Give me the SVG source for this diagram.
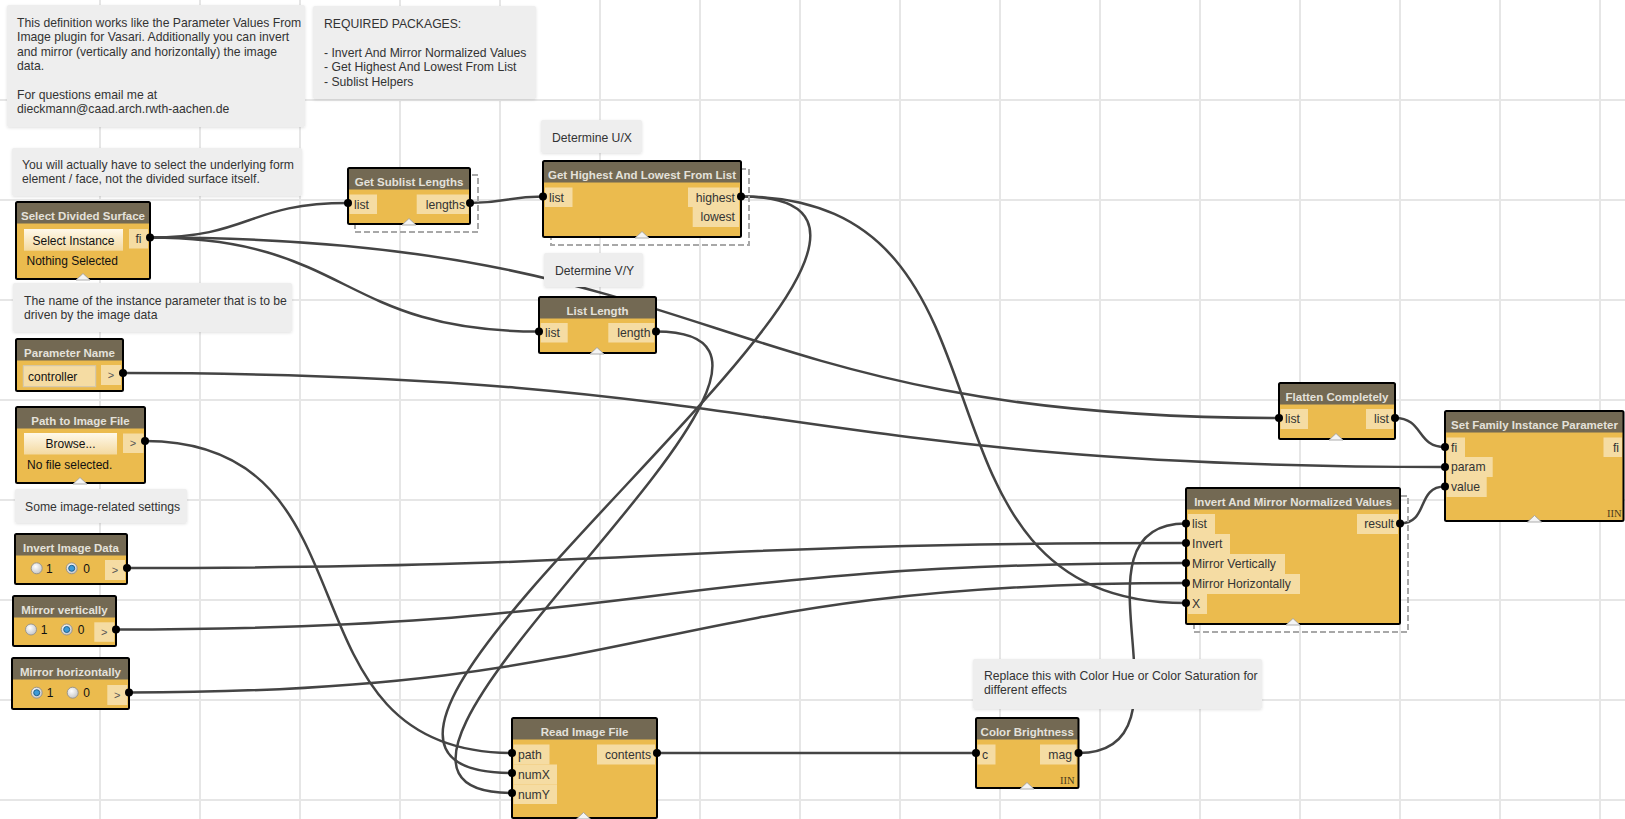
<svg xmlns="http://www.w3.org/2000/svg" width="1625" height="819" viewBox="0 0 1625 819">
<defs>
<style>
 .grid line{stroke:#e6e6e6;stroke-width:2}
 .wire{fill:none;stroke:#444;stroke-width:2.5}
 .body{fill:#ebbb4e}
 .head{fill:#736953}
 .frame{fill:none;stroke:#000;stroke-width:2}
 .title{font-family:"Liberation Sans",Arial,sans-serif;font-weight:bold;font-size:11.5px;fill:#e4e1da;text-anchor:middle}
 .port{fill:#f5dca3}
 .lbl{font-family:"Liberation Sans",Arial,sans-serif;font-size:12.2px;fill:#333}
 .end{text-anchor:end}
 .mid{text-anchor:middle}
 .txt{font-family:"Liberation Sans",Arial,sans-serif;font-size:12px;fill:#111}
 .arrow{font-family:"Liberation Sans",Arial,sans-serif;font-size:11px;fill:#555;text-anchor:middle}
 .dot{fill:#000}
 .tri{fill:#f4f4f4;stroke:#9a9a9a;stroke-width:0.8}
 .group{fill:none;stroke:#a8a8a8;stroke-width:2;stroke-dasharray:6 3}
 .note rect{fill:#eeeeee;filter:url(#shadow)}
 .note text{font-family:"Liberation Sans",Arial,sans-serif;font-size:12.2px;fill:#333}
 .lace{font-family:"Liberation Serif",serif;font-size:10.5px;fill:#4a3c1c}
 .btn{fill:url(#btnGrad)}
 .radio{fill:url(#radioGrad);stroke:#8a8a8a;stroke-width:0.8}
 .radioOn{fill:#3d9bd8;stroke:#1d5f8c;stroke-width:1}
 .field{fill:#f5dca3;stroke:#cfc7b5;stroke-width:1}
</style>
<linearGradient id="btnGrad" x1="0" y1="0" x2="0" y2="1">
 <stop offset="0" stop-color="#fff9ea"/>
 <stop offset="1" stop-color="#f3d9a0"/>
</linearGradient>
<radialGradient id="radioGrad" cx="0.4" cy="0.35" r="0.7">
 <stop offset="0" stop-color="#ffffff"/>
 <stop offset="1" stop-color="#c4c4c4"/>
</radialGradient>
<filter id="shadow" x="-5%" y="-15%" width="110%" height="140%">
 <feDropShadow dx="0" dy="1" stdDeviation="1.5" flood-color="#000" flood-opacity="0.12"/>
</filter>
</defs>

<rect width="1625" height="819" fill="#ffffff"/>

<!-- background grid, 100px -->
<g class="grid">
 <line x1="100" y1="0" x2="100" y2="819"/><line x1="200" y1="0" x2="200" y2="819"/>
 <line x1="300" y1="0" x2="300" y2="819"/><line x1="400" y1="0" x2="400" y2="819"/>
 <line x1="500" y1="0" x2="500" y2="819"/><line x1="600" y1="0" x2="600" y2="819"/>
 <line x1="700" y1="0" x2="700" y2="819"/><line x1="800" y1="0" x2="800" y2="819"/>
 <line x1="900" y1="0" x2="900" y2="819"/><line x1="1000" y1="0" x2="1000" y2="819"/>
 <line x1="1100" y1="0" x2="1100" y2="819"/><line x1="1200" y1="0" x2="1200" y2="819"/>
 <line x1="1300" y1="0" x2="1300" y2="819"/><line x1="1400" y1="0" x2="1400" y2="819"/>
 <line x1="1500" y1="0" x2="1500" y2="819"/><line x1="1600" y1="0" x2="1600" y2="819"/>
 <line x1="0" y1="100" x2="1625" y2="100"/><line x1="0" y1="200" x2="1625" y2="200"/>
 <line x1="0" y1="300" x2="1625" y2="300"/><line x1="0" y1="400" x2="1625" y2="400"/>
 <line x1="0" y1="500" x2="1625" y2="500"/><line x1="0" y1="600" x2="1625" y2="600"/>
 <line x1="0" y1="700" x2="1625" y2="700"/><line x1="0" y1="800" x2="1625" y2="800"/>
</g>

<!-- connectors: cubic beziers, horizontal tangents at both ports -->
<g id="connectors">
 <path class="wire" d="M150,237.5 C250.5,237.5 247.5,203 348,203"/>
 <path class="wire" d="M150,237.5 C350,237.5 339,331.5 539,331.5"/>
 <path class="wire" d="M150,237.5 C721.7,237.5 707.3,418 1279,418"/>
 <path class="wire" d="M470,203 C506.6,203 506.4,196.5 543,196.5"/>
 <path class="wire" d="M741,196.5 C1051.2,196.5 201.8,773 512,773"/>
 <path class="wire" d="M741,196.5 C1042.4,196.5 884.6,603 1186,603"/>
 <path class="wire" d="M656,331.5 C897.7,331.5 270.3,793 512,793"/>
 <path class="wire" d="M123,373 C785.7,373 782.3,467 1445,467"/>
 <path class="wire" d="M145,441 C385.8,441 271.2,753 512,753"/>
 <path class="wire" d="M127,568 C656.6,568 656.4,543 1186,543"/>
 <path class="wire" d="M116,629.5 C652,629.5 650,563 1186,563"/>
 <path class="wire" d="M129,692.5 C660.3,692.5 654.7,583 1186,583"/>
 <path class="wire" d="M657,753 L976,753"/>
 <path class="wire" d="M1078.5,753 C1205.2,753 1059.3,523.5 1186,523.5"/>
 <path class="wire" d="M1395,418 C1423.9,418 1416.1,447 1445,447"/>
 <path class="wire" d="M1400,523.5 C1429.1,523.5 1415.9,486.5 1445,486.5"/>
</g>

<!-- notes -->
<g id="note-intro" class="note">
 <rect x="7" y="5" width="298" height="122" rx="2"/>
 <text x="17" y="27">This definition works like the Parameter Values From</text>
 <text x="17" y="41.4">Image plugin for Vasari. Additionally you can invert</text>
 <text x="17" y="55.8">and mirror (vertically and horizontally) the image</text>
 <text x="17" y="70.2">data.</text>
 <text x="17" y="99">For questions email me at</text>
 <text x="17" y="113.4">dieckmann@caad.arch.rwth-aachen.de</text>
</g>
<g id="note-packages" class="note">
 <rect x="313" y="6" width="223" height="93" rx="2"/>
 <text x="324" y="28">REQUIRED PACKAGES:</text>
 <text x="324" y="56.8">- Invert And Mirror Normalized Values</text>
 <text x="324" y="71.2">- Get Highest And Lowest From List</text>
 <text x="324" y="85.6">- Sublist Helpers</text>
</g>
<g id="note-select" class="note">
 <rect x="12" y="148" width="290" height="48" rx="2"/>
 <text x="22" y="168.5">You will actually have to select the underlying form</text>
 <text x="22" y="182.9">element / face, not the divided surface itself.</text>
</g>
<g id="note-ux" class="note">
 <rect x="541" y="120" width="101" height="33" rx="2"/>
 <text x="552" y="141.5">Determine U/X</text>
</g>
<g id="note-vy" class="note">
 <rect x="544" y="253" width="99" height="34" rx="2"/>
 <text x="555" y="274.5">Determine V/Y</text>
</g>
<g id="note-param" class="note">
 <rect x="13" y="283" width="279" height="49" rx="2"/>
 <text x="24" y="305">The name of the instance parameter that is to be</text>
 <text x="24" y="319.4">driven by the image data</text>
</g>
<g id="note-settings" class="note">
 <rect x="15" y="489" width="172" height="34" rx="2"/>
 <text x="25" y="510.5">Some image-related settings</text>
</g>
<g id="note-color" class="note">
 <rect x="973" y="659" width="289" height="50" rx="2"/>
 <text x="984" y="680">Replace this with Color Hue or Color Saturation for</text>
 <text x="984" y="694.4">different effects</text>
</g>

<!-- node groups (dashed outlines) -->
<rect class="group" x="355" y="175" width="123" height="57"/>
<rect class="group" x="551" y="169" width="198" height="76"/>
<rect class="group" x="1194" y="496" width="214" height="136"/>

<!-- nodes -->
<g id="select-divided-surface" transform="translate(16,202)">
 <rect class="body" width="134" height="77"/>
 <rect class="head" width="134" height="21.5"/>
 <rect class="frame" width="134" height="77" rx="1.5"/>
 <text class="title" x="67" y="18">Select Divided Surface</text>
 <rect class="btn" x="8" y="27" width="99" height="21.7"/>
 <text class="txt mid" x="57.5" y="42.5">Select Instance</text>
 <rect class="port" x="113" y="27" width="19" height="19.5"/>
 <text class="lbl mid" x="122.5" y="41">fi</text>
 <text class="txt" x="10.5" y="63">Nothing Selected</text>
 <circle class="dot" cx="134" cy="35.5" r="4"/>
 <polygon class="tri" points="60,78 67,71.5 74,78"/>
</g>

<g id="get-sublist-lengths" transform="translate(348,168)">
 <rect class="body" width="122" height="56"/>
 <rect class="head" width="122" height="21.5"/>
 <rect class="frame" width="122" height="56" rx="1.5"/>
 <text class="title" x="61" y="18">Get Sublist Lengths</text>
 <rect class="port" x="1.5" y="26.5" width="27.5" height="19.5"/>
 <text class="lbl" x="6" y="40.5">list</text>
 <rect class="port" x="68.7" y="26.5" width="52" height="19.5"/>
 <text class="lbl end" x="117" y="40.5">lengths</text>
 <circle class="dot" cx="0" cy="35" r="4"/>
 <circle class="dot" cx="122" cy="35" r="4"/>
 <polygon class="tri" points="54,57 61,50.5 68,57"/>
</g>

<g id="get-highest-lowest" transform="translate(543,161)">
 <rect class="body" width="198" height="76"/>
 <rect class="head" width="198" height="21.5"/>
 <rect class="frame" width="198" height="76" rx="1.5"/>
 <text class="title" x="99" y="18">Get Highest And Lowest From List</text>
 <rect class="port" x="2" y="26.5" width="27.5" height="19.5"/>
 <text class="lbl" x="6" y="40.5">list</text>
 <rect class="port" x="145" y="26.5" width="51" height="19.5"/>
 <text class="lbl end" x="192" y="40.5">highest</text>
 <rect class="port" x="149.7" y="46" width="46.3" height="20"/>
 <text class="lbl end" x="192" y="60">lowest</text>
 <circle class="dot" cx="0" cy="35.5" r="4"/>
 <circle class="dot" cx="198" cy="35.5" r="4"/>
 <polygon class="tri" points="92,77 99,70.5 106,77"/>
</g>

<g id="list-length" transform="translate(539,297)">
 <rect class="body" width="117" height="56"/>
 <rect class="head" width="117" height="21.5"/>
 <rect class="frame" width="117" height="56" rx="1.5"/>
 <text class="title" x="58.5" y="18">List Length</text>
 <rect class="port" x="1.7" y="26" width="27" height="19.5"/>
 <text class="lbl" x="6" y="40">list</text>
 <rect class="port" x="69.3" y="26" width="46" height="19.5"/>
 <text class="lbl end" x="111.5" y="40">length</text>
 <circle class="dot" cx="0" cy="34.5" r="4"/>
 <circle class="dot" cx="117" cy="34.5" r="4"/>
 <polygon class="tri" points="51,57 58,50.5 65,57"/>
</g>

<g id="parameter-name" transform="translate(16,339)">
 <rect class="body" width="107" height="52"/>
 <rect class="head" width="107" height="21.5"/>
 <rect class="frame" width="107" height="52" rx="1.5"/>
 <text class="title" x="53.5" y="18">Parameter Name</text>
 <rect class="field" x="7.3" y="26.7" width="72.4" height="21"/>
 <text class="txt" x="12" y="41.5">controller</text>
 <rect class="port" x="85" y="26" width="20" height="20"/>
 <text class="arrow" x="95" y="39.5">&gt;</text>
 <circle class="dot" cx="107" cy="34" r="4"/>
</g>

<g id="path-to-image-file" transform="translate(16,407)">
 <rect class="body" width="129" height="76"/>
 <rect class="head" width="129" height="21.5"/>
 <rect class="frame" width="129" height="76" rx="1.5"/>
 <text class="title" x="64.5" y="18">Path to Image File</text>
 <rect class="btn" x="8" y="26" width="93" height="21.5"/>
 <text class="txt mid" x="54.5" y="41">Browse...</text>
 <rect class="port" x="107" y="26.5" width="20.5" height="19.5"/>
 <text class="arrow" x="117" y="40">&gt;</text>
 <text class="txt" x="11" y="62">No file selected.</text>
 <circle class="dot" cx="129" cy="34" r="4"/>
 <polygon class="tri" points="57,77 64,70.5 71,77"/>
</g>

<g id="invert-image-data" transform="translate(15,534)">
 <rect class="body" width="112" height="50"/>
 <rect class="head" width="112" height="21.5"/>
 <rect class="frame" width="112" height="50" rx="1.5"/>
 <text class="title" x="56" y="18">Invert Image Data</text>
 <circle class="radio" cx="21.7" cy="34.3" r="5.5"/>
 <text class="txt mid" x="34.3" y="38.8">1</text>
 <circle class="radio" cx="56.7" cy="34.3" r="5.5"/>
 <circle class="radioOn" cx="56.7" cy="34.3" r="3"/>
 <text class="txt mid" x="71.7" y="38.8">0</text>
 <rect class="port" x="90" y="26" width="20" height="20"/>
 <text class="arrow" x="100" y="39.5">&gt;</text>
 <circle class="dot" cx="112" cy="34" r="4"/>
</g>

<g id="mirror-vertically" transform="translate(13,596)">
 <rect class="body" width="103" height="50"/>
 <rect class="head" width="103" height="21.5"/>
 <rect class="frame" width="103" height="50" rx="1.5"/>
 <text class="title" x="51.5" y="18">Mirror vertically</text>
 <circle class="radio" cx="18" cy="33.5" r="5.5"/>
 <text class="txt mid" x="31" y="38">1</text>
 <circle class="radio" cx="53.7" cy="33.5" r="5.5"/>
 <circle class="radioOn" cx="53.7" cy="33.5" r="3"/>
 <text class="txt mid" x="68" y="38">0</text>
 <rect class="port" x="81.3" y="26.3" width="20" height="19.5"/>
 <text class="arrow" x="91.3" y="39.5">&gt;</text>
 <circle class="dot" cx="103" cy="33.5" r="4"/>
</g>

<g id="mirror-horizontally" transform="translate(12,658)">
 <rect class="body" width="117" height="51"/>
 <rect class="head" width="117" height="21.5"/>
 <rect class="frame" width="117" height="51" rx="1.5"/>
 <text class="title" x="58.5" y="18">Mirror horizontally</text>
 <circle class="radio" cx="24.7" cy="34.7" r="5.5"/>
 <circle class="radioOn" cx="24.7" cy="34.7" r="3"/>
 <text class="txt mid" x="38" y="39.2">1</text>
 <circle class="radio" cx="60.7" cy="34.7" r="5.5"/>
 <text class="txt mid" x="74.7" y="39.2">0</text>
 <rect class="port" x="95.3" y="27" width="20" height="20"/>
 <text class="arrow" x="105.3" y="40.5">&gt;</text>
 <circle class="dot" cx="117" cy="34.5" r="4"/>
</g>

<g id="flatten-completely" transform="translate(1279,383)">
 <rect class="body" width="116" height="56"/>
 <rect class="head" width="116" height="21.5"/>
 <rect class="frame" width="116" height="56" rx="1.5"/>
 <text class="title" x="58" y="18">Flatten Completely</text>
 <rect class="port" x="1.5" y="26" width="27.5" height="20"/>
 <text class="lbl" x="6" y="40">list</text>
 <rect class="port" x="87" y="26" width="27.3" height="20"/>
 <text class="lbl end" x="110" y="40">list</text>
 <circle class="dot" cx="0" cy="35" r="4"/>
 <circle class="dot" cx="116" cy="35" r="4"/>
 <polygon class="tri" points="50,57 57,50.5 64,57"/>
</g>

<g id="set-family-instance-parameter" transform="translate(1445,411)">
 <rect class="body" width="178.5" height="110"/>
 <rect class="head" width="178.5" height="21.5"/>
 <rect class="frame" width="178.5" height="110" rx="1.5"/>
 <text class="title" x="89.5" y="18">Set Family Instance Parameter</text>
 <rect class="port" x="1.7" y="26.5" width="18.3" height="19.5"/>
 <text class="lbl" x="6" y="40.5">fi</text>
 <rect class="port" x="1.7" y="46" width="46" height="20"/>
 <text class="lbl" x="6" y="60">param</text>
 <rect class="port" x="1.7" y="66" width="40" height="20"/>
 <text class="lbl" x="6" y="80">value</text>
 <rect class="port" x="158.5" y="26.5" width="18.5" height="19.5"/>
 <text class="lbl end" x="174" y="40.5">fi</text>
 <circle class="dot" cx="0" cy="36" r="4"/>
 <circle class="dot" cx="0" cy="56" r="4"/>
 <circle class="dot" cx="0" cy="75.5" r="4"/>
 <text class="lace" x="162" y="106">IIN</text>
 <polygon class="tri" points="82.5,111 89.5,104.5 96.5,111"/>
</g>

<g id="invert-and-mirror" transform="translate(1186,488)">
 <rect class="body" width="214" height="136"/>
 <rect class="head" width="214" height="21.5"/>
 <rect class="frame" width="214" height="136" rx="1.5"/>
 <text class="title" x="107" y="18">Invert And Mirror Normalized Values</text>
 <rect class="port" x="2" y="26" width="27" height="20"/>
 <text class="lbl" x="6" y="40">list</text>
 <rect class="port" x="2" y="46" width="42" height="20"/>
 <text class="lbl" x="6" y="60">Invert</text>
 <rect class="port" x="2" y="66" width="97" height="20"/>
 <text class="lbl" x="6" y="80">Mirror Vertically</text>
 <rect class="port" x="2" y="86" width="112" height="20"/>
 <text class="lbl" x="6" y="100">Mirror Horizontally</text>
 <rect class="port" x="2" y="106" width="19" height="20"/>
 <text class="lbl" x="6" y="120">X</text>
 <rect class="port" x="171" y="26" width="41" height="20"/>
 <text class="lbl end" x="208" y="40">result</text>
 <circle class="dot" cx="0" cy="35.5" r="4"/>
 <circle class="dot" cx="0" cy="55" r="4"/>
 <circle class="dot" cx="0" cy="75" r="4"/>
 <circle class="dot" cx="0" cy="95" r="4"/>
 <circle class="dot" cx="0" cy="115" r="4"/>
 <circle class="dot" cx="214" cy="35.5" r="4"/>
 <polygon class="tri" points="100,137 107,130.5 114,137"/>
</g>

<g id="read-image-file" transform="translate(512,718)">
 <rect class="body" width="145" height="100"/>
 <rect class="head" width="145" height="21.5"/>
 <rect class="frame" width="145" height="100" rx="1.5"/>
 <text class="title" x="72.5" y="18">Read Image File</text>
 <rect class="port" x="1.5" y="26.5" width="36" height="20"/>
 <text class="lbl" x="6" y="40.5">path</text>
 <rect class="port" x="1.5" y="46.5" width="43.5" height="20"/>
 <text class="lbl" x="6" y="60.5">numX</text>
 <rect class="port" x="1.5" y="66.5" width="43.5" height="19.5"/>
 <text class="lbl" x="6" y="80.5">numY</text>
 <rect class="port" x="85" y="26.5" width="58" height="20"/>
 <text class="lbl end" x="139" y="40.5">contents</text>
 <circle class="dot" cx="0" cy="35" r="4"/>
 <circle class="dot" cx="0" cy="55" r="4"/>
 <circle class="dot" cx="0" cy="75" r="4"/>
 <circle class="dot" cx="145" cy="35" r="4"/>
 <polygon class="tri" points="64.5,101 71.5,94.5 78.5,101"/>
</g>

<g id="color-brightness" transform="translate(976,718)">
 <rect class="body" width="102.5" height="70"/>
 <rect class="head" width="102.5" height="21.5"/>
 <rect class="frame" width="102.5" height="70" rx="1.5"/>
 <text class="title" x="51.25" y="18">Color Brightness</text>
 <rect class="port" x="1.5" y="26.5" width="18" height="20"/>
 <text class="lbl" x="6" y="40.5">c</text>
 <rect class="port" x="64" y="26.5" width="36.5" height="20"/>
 <text class="lbl end" x="96" y="40.5">mag</text>
 <circle class="dot" cx="0" cy="35" r="4"/>
 <circle class="dot" cx="102.5" cy="35" r="4"/>
 <text class="lace" x="84" y="66">IIN</text>
 <polygon class="tri" points="44,71 51,64.5 58,71"/>
</g>
</svg>
